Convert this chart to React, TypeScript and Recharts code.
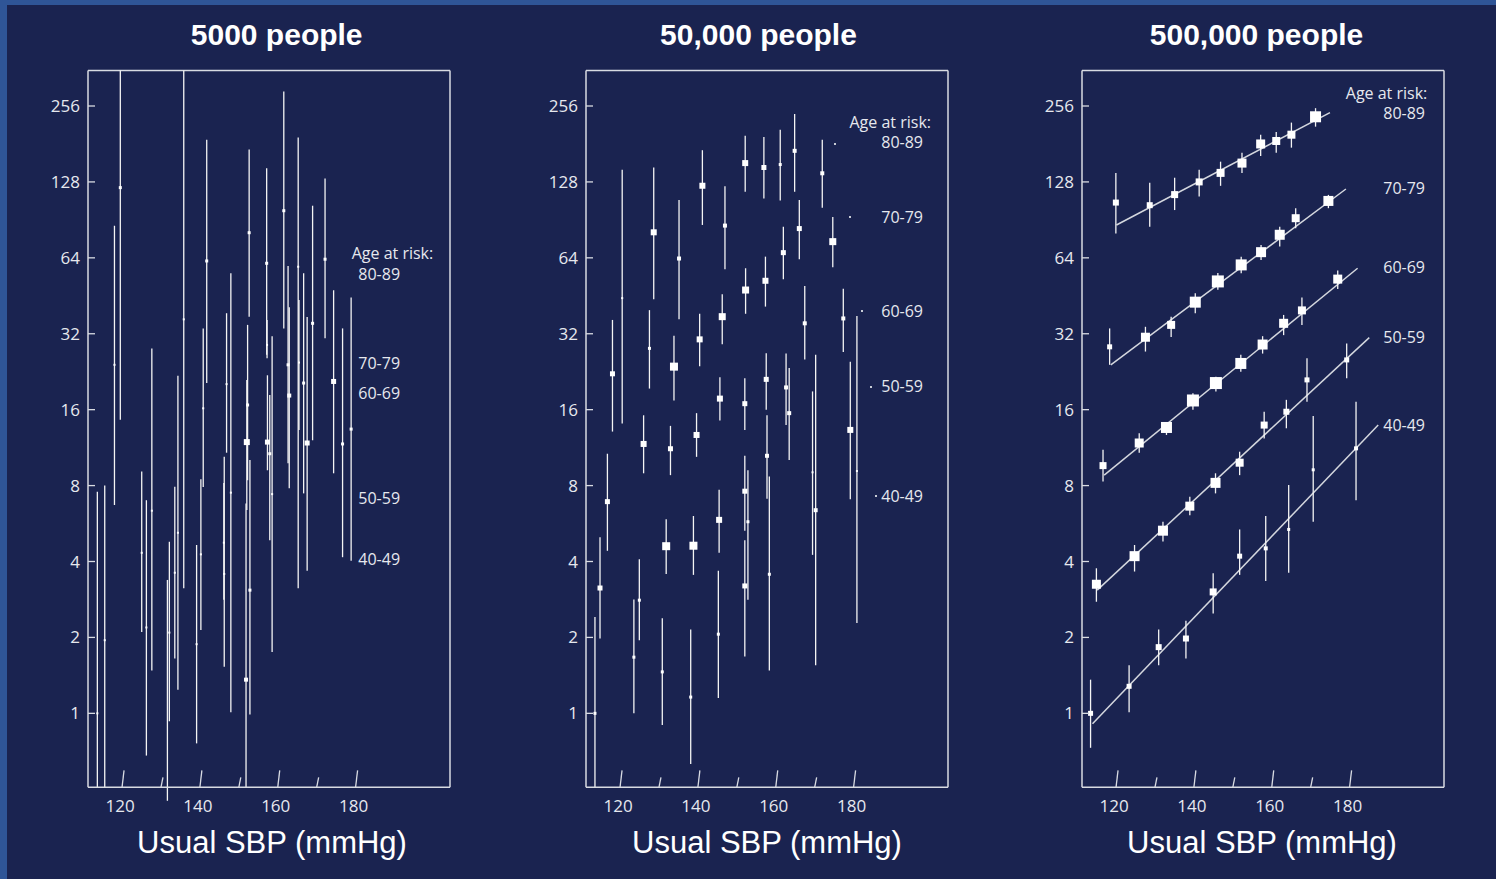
import React from "react";
import { ComposedChart, Scatter, Line, XAxis, YAxis, ErrorBar, ReferenceLine } from "recharts";

// [usual SBP, relative risk, lower CI, upper CI, weight]
type Row = [number, number, number, number, number];

const xDomain: [number, number] = [111, 204];
const yDomain: [number, number] = [0.509, 354];
const xTicks = [120, 130, 140, 150, 160, 170, 180];
const yTicks = [1, 2, 4, 8, 16, 32, 64, 128, 256];
const ageGroups = ["80-89", "70-79", "60-69", "50-59", "40-49"];
const titles = ["5000 people", "50,000 people", "500,000 people"];

const small: Row[] = [
  [117.8, 24.1, 6.7, 85.8, 2], [119.3, 121.5, 14.6, 400, 3], [127.4, 6.36, 1.48, 28, 2],
  [135.6, 36.5, 3.13, 400, 2], [141.5, 62.2, 20.4, 188, 3], [140.6, 16.2, 7.9, 33.6, 2],
  [147.7, 7.5, 1.01, 55.6, 2], [146.6, 20.2, 10.8, 38.6, 2], [152.4, 80.5, 37.4, 172, 3],
  [152.0, 16.7, 8.4, 34.7, 3], [151.8, 11.9, 6.4, 21, 6], [152.6, 3.08, 0.99, 10.1, 3],
  [151.6, 1.36, 0.4, 6.8, 4], [156.9, 60.9, 26.4, 145, 3], [157.0, 28.9, 25.6, 36.3, 2],
  [157.1, 11.9, 9.2, 21.9, 5], [157.7, 10.7, 4.86, 18.3, 3], [158.3, 7.4, 1.75, 31.3, 2],
  [161.3, 98.4, 33.6, 292, 3], [162.4, 24.1, 9.8, 59.4, 3], [162.7, 18.2, 7.8, 40.8, 4],
  [165.0, 59, 3.13, 192, 2], [165.2, 24.6, 13.3, 43.5, 2], [166.4, 20.4, 7.45, 55.6, 3],
  [167.3, 11.8, 3.68, 37.3, 5], [168.7, 35.2, 12.1, 103, 3], [171.9, 63.2, 30.7, 132, 3],
  [174.1, 20.7, 8.95, 47.6, 5], [176.4, 11.7, 4.16, 33.6, 3], [178.6, 13.4, 4.03, 44.6, 3],
  [113.4, 1.0, 0.4, 7.57, 2], [115.3, 1.95, 0.4, 8.0, 2], [124.8, 4.33, 2.1, 9.1, 2],
  [126.0, 2.19, 0.68, 7.0, 2], [131.9, 2.09, 0.93, 4.79, 2], [131.4, 0.45, 0.3, 3.38, 2],
  [133.3, 3.61, 1.65, 7.92, 2], [134.1, 5.2, 1.24, 21.8, 2], [138.9, 1.88, 0.76, 4.65, 2],
  [140.0, 4.27, 2.14, 8.47, 2], [145.9, 4.75, 2.82, 8.2, 2], [146.0, 3.57, 1.53, 10.4, 2],
];

const medium: Row[] = [
  [151.9, 152, 117, 195, 6], [156.7, 146, 110, 193, 5], [160.9, 150, 108, 206, 3],
  [164.6, 170, 117, 238, 4], [171.7, 138.5, 101, 188, 4], [140.9, 123.6, 86.4, 171, 6],
  [146.7, 85.9, 57.6, 123, 4], [128.4, 80.8, 43.8, 146, 6], [120.3, 44.3, 14.1, 143, 2],
  [134.9, 63.6, 36.5, 108.6, 4], [165.8, 83.6, 63.2, 108.6, 5], [161.7, 67.1, 52.6, 85, 5],
  [174.4, 74.2, 58.7, 93, 7], [157.1, 51.9, 41, 64.7, 6], [152.0, 47.7, 38.4, 58.2, 7],
  [146.0, 37.4, 29.1, 45.9, 7], [140.2, 30.4, 23.8, 38.4, 6], [133.6, 23.7, 17.4, 31.4, 8],
  [117.8, 22.2, 13.1, 36.3, 5], [127.3, 28.0, 19.4, 39.7, 3], [167.2, 35.2, 25.3, 49.5, 4],
  [177.1, 36.8, 27.1, 48.3, 4], [145.4, 17.7, 14.5, 21.5, 6], [151.8, 16.9, 13.3, 21.3, 5],
  [157.3, 21.1, 16, 26.8, 5], [162.4, 19.6, 13.9, 26.7, 4], [163.2, 15.5, 10.1, 23.4, 4],
  [178.9, 13.3, 7.06, 24.8, 6], [180.6, 9.14, 2.28, 37.6, 2], [170.0, 6.39, 1.55, 26.4, 4],
  [169.2, 9.03, 4.25, 18.9, 2], [139.4, 12.7, 10.4, 15.5, 6], [125.8, 11.7, 8.95, 15.2, 6],
  [132.7, 11.2, 8.8, 13.8, 5], [157.5, 10.5, 7.1, 15.2, 4], [151.8, 7.6, 5.3, 10.5, 5],
  [152.6, 5.75, 2.82, 9.2, 3], [151.8, 3.2, 1.68, 4.86, 5], [158.1, 3.56, 1.48, 8.7, 3],
  [145.2, 5.85, 4.33, 7.7, 6], [145.0, 2.06, 1.15, 3.68, 3], [138.6, 4.62, 3.54, 6.06, 8],
  [131.6, 4.6, 3.57, 5.88, 8], [137.9, 1.16, 0.63, 2.15, 3], [130.6, 1.46, 0.9, 2.38, 3],
  [123.3, 1.67, 1.0, 2.83, 3], [124.7, 2.81, 1.95, 4.08, 3], [116.5, 6.91, 4.41, 10.7, 5],
  [114.6, 3.14, 1.98, 4.99, 5], [113.3, 1.0, 0.4, 2.41, 3],
];

const large80: Row[] = [
  [119.7, 106, 80, 139, 6], [128.4, 103.5, 85, 127, 6], [134.8, 114, 99, 133, 7],
  [141.1, 128, 112, 143, 7], [146.6, 139, 123.5, 154, 8], [152.1, 152, 139, 167, 9],
  [156.9, 181, 162, 197, 9], [160.9, 186, 167, 202, 8], [164.8, 197, 175, 220, 8],
  [171.0, 232, 212, 251, 11],
];
const large70: Row[] = [
  [118.1, 28.4, 24.1, 33.6, 5], [127.3, 31, 27.2, 34.1, 9], [133.9, 34.7, 31.1, 37.4, 8],
  [140.1, 42.7, 38.6, 46.3, 11], [145.9, 51.6, 47.8, 55.7, 12], [151.9, 60, 55.6, 64.7, 11],
  [157.0, 67.4, 62.8, 72, 10], [161.8, 79, 71, 85, 10], [165.9, 91.9, 83.9, 100.7, 8],
  [174.3, 107.6, 100.7, 113.7, 10],
];
const large60: Row[] = [
  [116.4, 9.6, 8.3, 11.1, 7], [125.7, 11.8, 10.8, 12.9, 9], [132.7, 13.6, 12.7, 14.3, 11],
  [139.5, 17.4, 16, 18.6, 12], [145.4, 20.4, 18.9, 21.6, 12], [151.8, 24.4, 22.6, 26.4, 11],
  [157.4, 29.0, 26.7, 31.3, 10], [162.8, 35.2, 31.6, 38, 9], [167.5, 39.6, 34.7, 44.6, 8],
  [176.7, 52.7, 48.1, 57, 9],
];
const large50: Row[] = [
  [114.7, 3.25, 2.77, 3.76, 9], [124.5, 4.2, 3.65, 4.65, 10], [131.8, 5.3, 4.8, 5.75, 10],
  [138.7, 6.63, 6.1, 7.22, 9], [145.3, 8.2, 7.45, 8.95, 10], [151.5, 9.86, 8.8, 10.9, 8],
  [157.8, 13.9, 12.3, 15.7, 7], [163.5, 15.7, 13.5, 17.5, 6], [168.8, 21, 17.2, 25.6, 5],
  [179.0, 25.2, 21.3, 29.3, 5],
];
const large40: Row[] = [
  [113.2, 1.0, 0.73, 1.36, 5], [123.1, 1.28, 1.01, 1.55, 5], [130.7, 1.83, 1.55, 2.15, 6],
  [137.7, 1.98, 1.65, 2.33, 6], [144.7, 3.03, 2.49, 3.59, 7], [151.5, 4.2, 3.54, 5.36, 5],
  [158.2, 4.51, 3.35, 6.06, 4], [164.1, 5.36, 3.61, 8.05, 3], [170.4, 9.24, 5.75, 15.1, 3],
  [181.4, 11.24, 7.0, 17.2, 4],
];

// fitted lines for the 500,000 panel: [start sbp, start risk, end sbp, end risk]
const fits: [number, number, number, number][] = [
  [119.85, 86.4, 174.7, 241],
  [118.4, 24.1, 178.8, 120],
  [116.7, 8.8, 181.8, 58.2],
  [114.9, 3.08, 184.8, 30.9],
  [113.7, 0.91, 187.1, 13.9],
];

const NAVY = "#1a2350";
const EDGE = "#2f5597";
const BOX = "#d8dbe2";
const INK = "#f4f4f4";
const TXT = "#e6e8ee";
const FONT = "'Open Sans', 'DejaVu Sans', sans-serif";

// whiskers stop at the frame, like the arrows in the original
const toPoints = (rows: Row[]) =>
  rows.map(([x, y, lo, hi, wt]) => {
    const low = Math.max(lo, yDomain[0]);
    const high = Math.min(hi, yDomain[1]);
    return { x, y, wt, err: [Math.max(y - low, 0), Math.max(high - y, 0)] };
  });

function Box(props: any) {
  const { cx, cy, payload } = props;
  if (cx == null || cy == null) return null;
  const s = payload.wt;
  return <rect x={cx - s / 2} y={cy - s / 2} width={s} height={s} fill="#ffffff" />;
}

function XTick({ x, y, payload }: any) {
  const major = payload.value % 20 === 0;
  const len = major ? 17 : 10;
  return (
    <g>
      <line x1={x - 1} y1={y} x2={x + 1} y2={y - len} stroke={BOX} strokeWidth={1.3} />
      {major && (
        <text x={x - 3} y={y + 25} textAnchor="middle" fill={TXT} fontSize={17} fontFamily={FONT}>
          {payload.value}
        </text>
      )}
    </g>
  );
}

function YTick({ x, y, payload }: any) {
  return (
    <g>
      <line x1={x} y1={y} x2={x + 7} y2={y} stroke={BOX} strokeWidth={1.3} />
      <text x={x - 8} y={y} dy={6} textAnchor="end" fill={TXT} fontSize={17} fontFamily={FONT}>
        {payload.value}
      </text>
    </g>
  );
}

type PanelProps = { boxLeft: number; series: Row[][]; lines?: [number, number, number, number][] };

function Panel({ boxLeft, series, lines = [] }: PanelProps) {
  return (
    <div style={{ position: "absolute", left: boxLeft - 60, top: 0 }}>
      <ComposedChart width={462} height={879} margin={{ top: 70.5, right: 40, bottom: 51.7, left: 10 }}>
        <XAxis
          dataKey="x"
          type="number"
          domain={xDomain}
          ticks={xTicks}
          allowDataOverflow
          height={40}
          tickSize={0}
          tickMargin={0}
          tick={<XTick />}
          axisLine={{ stroke: BOX, strokeWidth: 1.5 }}
        />
        <YAxis
          dataKey="y"
          scale="log"
          domain={yDomain}
          ticks={yTicks}
          allowDataOverflow
          width={50}
          tickSize={0}
          tickMargin={0}
          tick={<YTick />}
          axisLine={{ stroke: BOX, strokeWidth: 1.5 }}
        />
        <ReferenceLine y={yDomain[1]} stroke={BOX} strokeWidth={1.5} />
        <ReferenceLine x={xDomain[1]} stroke={BOX} strokeWidth={1.5} />
        {lines.map(([x1, y1, x2, y2], i) => (
          <Line
            key={"f" + i}
            data={[{ x: x1, y: y1 }, { x: x2, y: y2 }]}
            dataKey="y"
            stroke="#d4d7de"
            strokeWidth={1.5}
            dot={false}
            isAnimationActive={false}
          />
        ))}
        {series.map((rows, i) => (
          <Scatter key={"s" + i} data={toPoints(rows)} dataKey="y" shape={<Box />} isAnimationActive={false}>
            <ErrorBar dataKey="err" direction="y" width={0} stroke={INK} strokeWidth={1.3} />
          </Scatter>
        ))}
      </ComposedChart>
    </div>
  );
}

const textBase: React.CSSProperties = {
  position: "absolute",
  color: TXT,
  fontFamily: FONT,
  fontSize: 16,
  lineHeight: "16px",
  whiteSpace: "nowrap",
  transform: "translateY(-50%)",
};

function LeftLabel({ x, y, text }: { x: number; y: number; text: string }) {
  return <div style={{ ...textBase, left: x, top: y }}>{text}</div>;
}

function RightLabel({ x, y, text }: { x: number; y: number; text: string }) {
  return <div style={{ ...textBase, left: x - 200, width: 200, textAlign: "right", top: y }}>{text}</div>;
}

function Dot({ x, y }: { x: number; y: number }) {
  return <div style={{ position: "absolute", left: x - 1, top: y - 1, width: 2, height: 2, background: "#c8ccd6" }} />;
}

function Heading({ cx, text }: { cx: number; text: string }) {
  return (
    <div
      style={{
        position: "absolute", left: cx - 200, width: 400, top: 19.6, textAlign: "center",
        color: "#ffffff", fontFamily: "'Liberation Sans', Arial, sans-serif", fontWeight: 700,
        fontSize: 30, lineHeight: "30px",
      }}
    >
      {text}
    </div>
  );
}

function AxisTitle({ cx }: { cx: number }) {
  return (
    <div
      style={{
        position: "absolute", left: cx - 200, width: 400, top: 826.8, textAlign: "center",
        color: "#ffffff", fontFamily: "'Liberation Sans', Arial, sans-serif",
        fontSize: 31, lineHeight: "31px",
      }}
    >
      Usual SBP (mmHg)
    </div>
  );
}

export default function App() {
  return (
    <div style={{ position: "fixed", left: 0, top: 0, width: 1496, height: 879, background: EDGE, overflow: "hidden" }}>
      <div style={{ position: "absolute", left: 7, top: 5, right: 0, bottom: 0, background: NAVY }} />

      <Heading cx={276.7} text={titles[0]} />
      <Heading cx={758.5} text={titles[1]} />
      <Heading cx={1256.5} text={titles[2]} />

      <Panel boxLeft={87.7} series={[small]} />
      <Panel boxLeft={585.7} series={[medium]} />
      <Panel boxLeft={1082.3} series={[large80, large70, large60, large50, large40]} lines={fits} />

      <AxisTitle cx={272} />
      <AxisTitle cx={767} />
      <AxisTitle cx={1262} />

      <LeftLabel x={351.7} y={253.3} text="Age at risk:" />
      <LeftLabel x={358.3} y={274.3} text={ageGroups[0]} />
      <LeftLabel x={358.3} y={362.7} text={ageGroups[1]} />
      <LeftLabel x={358.3} y={392.7} text={ageGroups[2]} />
      <LeftLabel x={358.3} y={497.7} text={ageGroups[3]} />
      <LeftLabel x={358.3} y={559.3} text={ageGroups[4]} />

      <RightLabel x={931} y={121.7} text="Age at risk:" />
      <RightLabel x={923} y={142.3} text={ageGroups[0]} />
      <RightLabel x={923} y={216.7} text={ageGroups[1]} />
      <RightLabel x={923} y={310.7} text={ageGroups[2]} />
      <RightLabel x={923} y={385.7} text={ageGroups[3]} />
      <RightLabel x={923} y={496} text={ageGroups[4]} />
      <Dot x={835.3} y={144} />
      <Dot x={849.7} y={216.7} />
      <Dot x={862.3} y={310.7} />
      <Dot x={871} y={387.3} />
      <Dot x={876.3} y={496} />

      <RightLabel x={1427.3} y={92.7} text="Age at risk:" />
      <RightLabel x={1425} y={113.3} text={ageGroups[0]} />
      <RightLabel x={1425} y={188.3} text={ageGroups[1]} />
      <RightLabel x={1425} y={266.7} text={ageGroups[2]} />
      <RightLabel x={1425} y={336.7} text={ageGroups[3]} />
      <RightLabel x={1425} y={425} text={ageGroups[4]} />
    </div>
  );
}
